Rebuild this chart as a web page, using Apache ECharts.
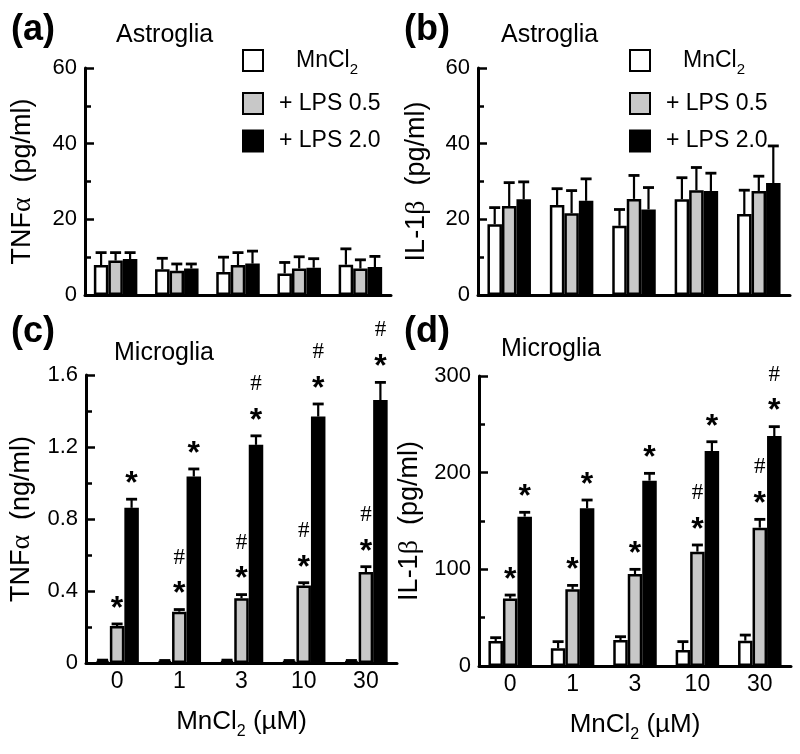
<!DOCTYPE html>
<html><head><meta charset="utf-8">
<script src="https://cdn.jsdelivr.net/npm/echarts/dist/echarts.min.js"></script>
<style>html,body{margin:0;padding:0;background:#fff}#c{width:800px;height:754px}</style>
</head><body><div id="c"></div><script>
// ---------- data ----------
const categories = ['0', '1', '3', '10', '30'];
const seriesNames = ['MnCl2', '+ LPS 0.5', '+ LPS 2.0'];

// (a) Astroglia TNFα (pg/ml): means and SEM
const aMn      = [7.9, 6.8, 6.1, 5.7, 8.0];
const aMnErr   = [3.3, 2.9, 3.9, 2.9, 4.2];
const aL05     = [9.1, 6.4, 7.9, 7.0, 7.0];
const aL05Err  = [2.1, 1.8, 3.3, 3.1, 2.3];
const aL2      = [9.5, 7.0, 8.3, 7.2, 7.4];
const aL2Err   = [1.7, 1.2, 3.3, 2.4, 2.8];

// (b) Astroglia IL-1β (pg/ml)
const bMn      = [18.7, 23.8, 18.3, 25.3, 21.4];
const bMnErr   = [4.4, 4.3, 4.3, 5.7, 6.3];
const bL05     = [23.5, 21.6, 25.4, 27.7, 27.5];
const bL05Err  = [6.2, 6.0, 6.2, 6.0, 3.9];
const bL2      = [25.3, 24.9, 22.6, 27.5, 29.6];
const bL2Err   = [4.6, 5.8, 5.8, 4.7, 9.8];

// (c) Microglia TNFα (ng/ml)
const cMn      = [0.012, 0.010, 0.012, 0.010, 0.010];
const cMnErr   = [0.004, 0.004, 0.004, 0.004, 0.004];
const cL05     = [0.205, 0.285, 0.360, 0.430, 0.505];
const cL05Err  = [0.012, 0.012, 0.020, 0.016, 0.030];
const cL2      = [0.862, 1.036, 1.212, 1.369, 1.461];
const cL2Err   = [0.048, 0.042, 0.050, 0.070, 0.098];

// (d) Microglia IL-1β (pg/ml)
const dMn      = [25.9, 18.3, 26.9, 16.6, 26.2];
const dMnErr   = [3.4, 6.9, 3.4, 8.6, 5.8];
const dL05     = [69.7, 79.3, 95.2, 118.3, 143.1];
const dL05Err  = [3.7, 4.1, 4.8, 6.9, 8.6];
const dL2      = [154.5, 163.1, 191.7, 222.4, 237.9];
const dL2Err   = [4.5, 8.6, 7.6, 9.6, 9.7];

// significance marks (* vs control, # vs MnCl2 0)
const cL05Marks = ['*', '*#', '*#', '*#', '*#'];
const cL2Marks  = ['*', '*', '*#', '*#', '*#'];
const dL05Marks = ['*', '*', '*', '*#', '*#'];
const dL2Marks  = ['*', '*', '*', '*', '*#'];

// y-axis tick settings
const yMax = [60, 60, 1.6, 300];
const yInterval = [20, 20, 0.4, 100];

// ---------- chart ----------
const FONT = 'Liberation Sans, Arial, Helvetica, sans-serif';
const SERIF = 'Liberation Serif, DejaVu Serif, serif';
const colors = ['#ffffff', '#c8c8c8', '#000000'];
const BW = 14.5;

const panels = [
  { means: [aMn, aL05, aL2], errs: [aMnErr, aL05Err, aL2Err], marks: [null, null, null] },
  { means: [bMn, bL05, bL2], errs: [bMnErr, bL05Err, bL2Err], marks: [null, null, null] },
  { means: [cMn, cL05, cL2], errs: [cMnErr, cL05Err, cL2Err], marks: [null, cL05Marks, cL2Marks] },
  { means: [dMn, dL05, dL2], errs: [dMnErr, dL05Err, dL2Err], marks: [null, dL05Marks, dL2Marks] }
];

const grids = [
  { left: 85, top: 68, width: 306, height: 227 },
  { left: 478, top: 68, width: 312, height: 227 },
  { left: 86, top: 375, width: 311, height: 288 },
  { left: 479, top: 376, width: 312, height: 290 }
];

const yNames = [
  '{t|TNF}{g|α}{t|  (pg/ml)}',
  '{t|IL-1}{g|β}{t|  (pg/ml)}',
  '{t|TNF}{g|α}{t|  (ng/ml)}',
  '{t|IL-1}{g|β}{t|  (pg/ml)}'
];
const yNameGaps = [48, 47, 50, 55];

const nameRich = {
  t: { fontSize: 27, fontFamily: FONT, color: '#000' },
  g: { fontSize: 28, fontFamily: SERIF, color: '#000' }
};

const xAxes = grids.map((g, i) => ({
  type: 'category', gridIndex: i, data: categories,
  axisLine: { lineStyle: { color: '#000', width: 3 } },
  axisTick: { show: false },
  axisLabel: { show: i >= 2, fontSize: 23, color: '#000', fontFamily: FONT, margin: 7 },
  name: i >= 2 ? '{t|MnCl}{s|2}{t| (µM)}' : '',
  nameLocation: 'middle', nameGap: 41,
  nameTextStyle: {
    rich: {
      t: { fontSize: 26, fontFamily: FONT, color: '#000', lineHeight: 36, verticalAlign: 'middle' },
      s: { fontSize: 16, fontFamily: FONT, color: '#000', lineHeight: 36, verticalAlign: 'bottom' }
    }
  }
}));

const yAxes = grids.map((g, i) => ({
  type: 'value', gridIndex: i, min: 0, max: yMax[i], interval: yInterval[i],
  axisLine: { show: true, lineStyle: { color: '#000', width: 3 } },
  axisTick: { show: true, inside: true, length: 9, lineStyle: { color: '#000', width: 2.5 } },
  minorTick: { show: true, splitNumber: 2, length: 6, lineStyle: { color: '#000', width: 2.5 } },
  splitLine: { show: false },
  axisLabel: {
    fontSize: 22, color: '#000', fontFamily: FONT, margin: 8,
    formatter: v => (i === 2 ? (v === 0 ? '0' : v.toFixed(1)) : String(v))
  },
  name: yNames[i], nameLocation: 'middle', nameGap: yNameGaps[i],
  nameTextStyle: { rich: nameRich }
}));

const series = [];
panels.forEach((p, pi) => {
  p.means.forEach((m, si) => {
    series.push({
      type: 'bar', name: seriesNames[si], xAxisIndex: pi, yAxisIndex: pi,
      data: m, barWidth: BW, barGap: '0%',
      itemStyle: { color: colors[si], borderColor: '#000', borderWidth: 2.5 },
      emphasis: { disabled: true }, z: 2
    });
  });
  p.means.forEach((m, si) => {
    // error bars (mean → mean + SEM)
    const errData = m.map((v, k) => [k, v, v + p.errs[si][k]]);
    series.push({
      type: 'custom', xAxisIndex: pi, yAxisIndex: pi, data: errData, z: 3, silent: true,
      encode: { x: 0, y: [1, 2] },
      renderItem: (params, api) => {
        const c = api.coord([api.value(0), api.value(1)]);
        const t = api.coord([api.value(0), api.value(2)]);
        const x = c[0] + (si - 1) * BW;
        return {
          type: 'group', children: [
            { type: 'line', shape: { x1: x, y1: c[1], x2: x, y2: t[1] }, style: { stroke: '#000', lineWidth: 2.2 } },
            { type: 'line', shape: { x1: x - 5.5, y1: t[1], x2: x + 5.5, y2: t[1] }, style: { stroke: '#000', lineWidth: 2.8 } }
          ]
        };
      }
    });
    // significance marks
    const mk = p.marks[si];
    if (mk) {
      const mkData = m.map((v, k) => [k, v + p.errs[si][k]]);
      series.push({
        type: 'custom', xAxisIndex: pi, yAxisIndex: pi, data: mkData, z: 4, silent: true,
        encode: { x: 0, y: 1 },
        renderItem: (params, api) => {
          const t = api.coord([api.value(0), api.value(1)]);
          const x = t[0] + (si - 1) * BW;
          const s = mk[params.dataIndex];
          const ch = [];
          if (s.indexOf('*') >= 0) ch.push({ type: 'text', x: x, y: t[1] - 15,
            style: { text: '*', fill: '#000', font: 'bold 32px ' + FONT, align: 'center', verticalAlign: 'middle' } });
          if (s.indexOf('#') >= 0) ch.push({ type: 'text', x: x, y: t[1] - 52,
            style: { text: '#', fill: '#000', font: '23px ' + SERIF, align: 'center', verticalAlign: 'middle' } });
          return { type: 'group', children: ch };
        }
      });
    }
  });
});

const legendBase = {
  orient: 'vertical', itemWidth: 20, itemHeight: 21, itemGap: 14.5, top: 44,
  data: seriesNames, selectedMode: false, icon: 'rect',
  formatter: n => n === 'MnCl2' ? '{p2|}{t|MnCl}{s|2}' : '{p1|}{t|' + n + '}',
  textStyle: {
    rich: {
      p1: { width: 11 }, p2: { width: 28 },
      t: { fontSize: 23, fontFamily: FONT, color: '#000', lineHeight: 22, verticalAlign: 'middle' },
      s: { fontSize: 15, fontFamily: FONT, color: '#000', lineHeight: 22, verticalAlign: 'bottom', padding: [0, 0, -6, 0] }
    }
  }
};

const titleStyle = (size, bold) => ({ fontSize: size, fontWeight: bold ? 'bold' : 'normal', color: '#000', fontFamily: FONT });

const option = {
  backgroundColor: '#fff',
  animation: false,
  title: [
    { text: '(a)', left: 11, top: 12, padding: 0, textStyle: titleStyle(36, true) },
    { text: 'Astroglia', left: 116, top: 23, padding: 0, textStyle: titleStyle(25, false) },
    { text: '(b)', left: 404, top: 12, padding: 0, textStyle: titleStyle(36, true) },
    { text: 'Astroglia', left: 501, top: 23, padding: 0, textStyle: titleStyle(25, false) },
    { text: '(c)', left: 11, top: 314, padding: 0, textStyle: titleStyle(36, true) },
    { text: 'Microglia', left: 114, top: 341, padding: 0, textStyle: titleStyle(25, false) },
    { text: '(d)', left: 404, top: 314, padding: 0, textStyle: titleStyle(36, true) },
    { text: 'Microglia', left: 501, top: 337, padding: 0, textStyle: titleStyle(25, false) }
  ],
  legend: [
    Object.assign({}, legendBase, { left: 237 }),
    Object.assign({}, legendBase, { left: 624 })
  ],
  grid: grids.map(g => Object.assign({ containLabel: false }, g)),
  xAxis: xAxes,
  yAxis: yAxes,
  series: series
};

const chart = echarts.init(document.getElementById('c'), null, { renderer: 'canvas' });
chart.setOption(option);
</script></body></html>
